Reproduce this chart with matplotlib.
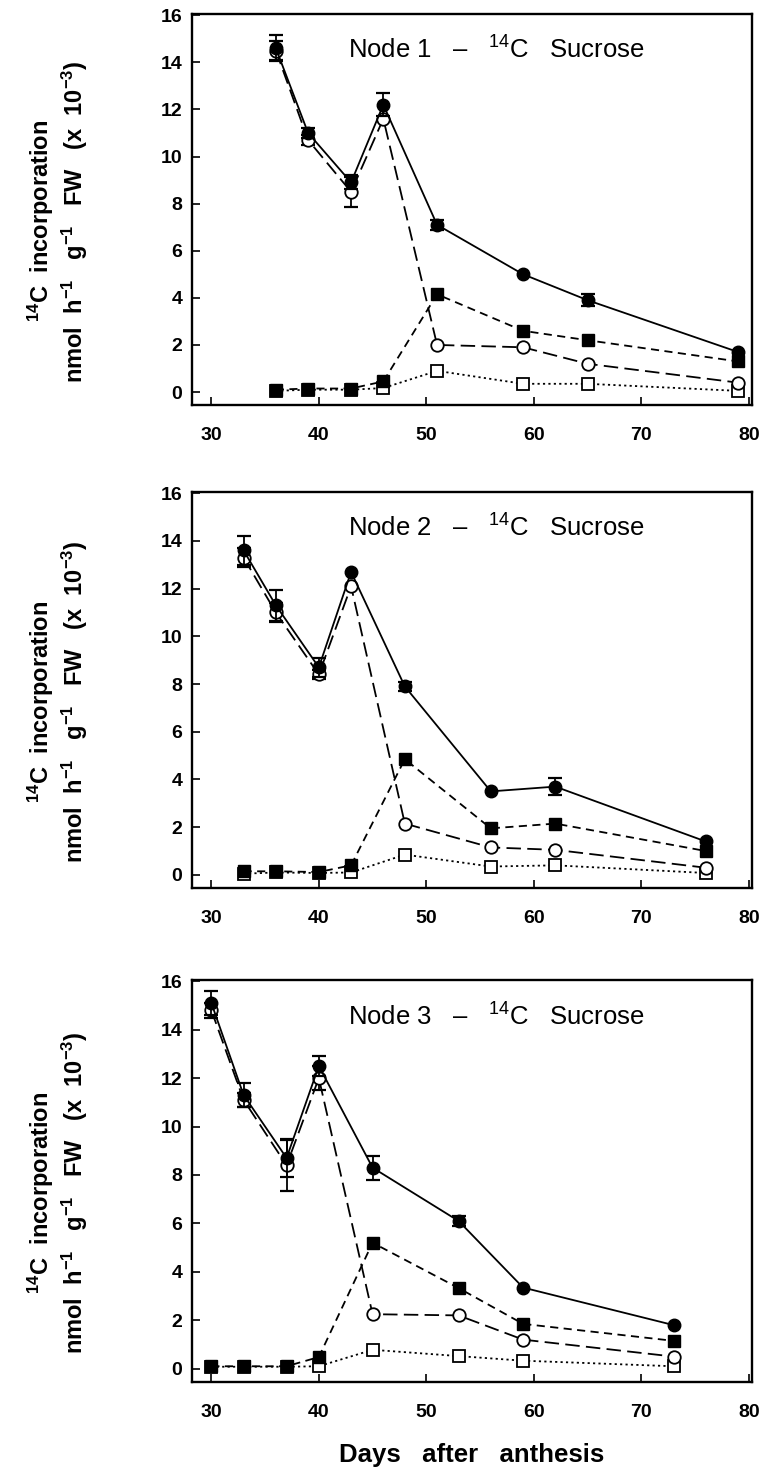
import numpy as np
import matplotlib
matplotlib.use("Agg")
import matplotlib.pyplot as plt

plt.rcParams['font.family'] = ['Liberation Sans', 'DejaVu Sans']
plt.rcParams['mathtext.fontset'] = 'custom'
plt.rcParams['mathtext.rm'] = 'Liberation Sans'
plt.rcParams['mathtext.bf'] = 'Liberation Sans:bold'
plt.rcParams['mathtext.default'] = 'regular'

# ---------------- data ----------------
node_titles = ["Node 1", "Node 2", "Node 3"]

days_n1 = [36, 39, 43, 46, 51, 59, 65, 79]
fc_n1 = [14.6, 11.0, 8.9, 12.2, 7.1, 5.0, 3.9, 1.7]      # filled circle, solid
fc_err_n1 = [0.55, 0.2, 0.3, 0.5, 0.2, 0.0, 0.25, 0.0]
oc_n1 = [14.5, 10.7, 8.5, 11.6, 2.0, 1.9, 1.2, 0.4]      # open circle, long dash
oc_err_n1 = [0.4, 0.2, 0.65, 0.0, 0.0, 0.0, 0.0, 0.0]
fs_n1 = [0.1, 0.15, 0.15, 0.45, 4.15, 2.6, 2.2, 1.3]     # filled square, short dash
os_n1 = [0.05, 0.1, 0.1, 0.17, 0.9, 0.35, 0.35, 0.05]    # open square, dotted

days_n2 = [33, 36, 40, 43, 48, 56, 62, 76]
fc_n2 = [13.6, 11.3, 8.7, 12.7, 7.9, 3.5, 3.7, 1.4]
fc_err_n2 = [0.6, 0.65, 0.4, 0.0, 0.2, 0.0, 0.35, 0.0]
oc_n2 = [13.3, 11.0, 8.4, 12.1, 2.15, 1.15, 1.05, 0.3]
oc_err_n2 = [0.4, 0.4, 0.2, 0.0, 0.0, 0.0, 0.0, 0.0]
fs_n2 = [0.15, 0.15, 0.12, 0.4, 4.85, 1.95, 2.15, 1.0]
os_n2 = [0.05, 0.1, 0.08, 0.1, 0.85, 0.35, 0.4, 0.08]

days_n3 = [30, 33, 37, 40, 45, 53, 59, 73]
fc_n3 = [15.1, 11.3, 8.7, 12.5, 8.3, 6.1, 3.35, 1.8]
fc_err_n3 = [0.5, 0.5, 0.8, 0.4, 0.5, 0.2, 0.0, 0.0]
oc_n3 = [14.8, 11.1, 8.4, 12.0, 2.25, 2.2, 1.2, 0.5]
oc_err_n3 = [0.3, 0.3, 1.05, 0.5, 0.0, 0.0, 0.0, 0.0]
fs_n3 = [0.1, 0.1, 0.1, 0.48, 5.2, 3.33, 1.85, 1.15]
os_n3 = [0.08, 0.08, 0.08, 0.1, 0.78, 0.52, 0.33, 0.1]

panels = [
    (days_n1, fc_n1, fc_err_n1, oc_n1, oc_err_n1, fs_n1, os_n1),
    (days_n2, fc_n2, fc_err_n2, oc_n2, oc_err_n2, fs_n2, os_n2),
    (days_n3, fc_n3, fc_err_n3, oc_n3, oc_err_n3, fs_n3, os_n3),
]

x_ticks = [30, 40, 50, 60, 70, 80]
y_ticks = [0, 2, 4, 6, 8, 10, 12, 14, 16]

# ---------------- figure ----------------
W, H = 767, 1472
fig = plt.figure(figsize=(W / 100, H / 100), dpi=100)

boxes = [(14, 405), (492, 888), (980, 1382)]  # top/bottom in pixels
left_px, right_px = 192, 752

lw = 1.3
ms = 9

for i, ((days, fc, fce, oc, oce, fs, os_), (top, bot)) in enumerate(zip(panels, boxes)):
    ax = fig.add_axes([left_px / W, 1 - bot / H, (right_px - left_px) / W, (bot - top) / H])
    days = np.array(days, float)
    fc, fce, oc, oce = map(lambda a: np.array(a, float), (fc, fce, oc, oce))

    ax.plot(days, os_, color='black', lw=lw, dashes=(1.2, 1.8), marker='s', ms=ms,
            mfc='white', mec='black', mew=1.3, zorder=2)
    ax.plot(days, fs, color='black', lw=lw, dashes=(4.5, 3), marker='s', ms=ms,
            mfc='black', mec='black', zorder=3)
    m = oce > 0
    ax.errorbar(days[m], oc[m], yerr=oce[m], fmt='none', ecolor='black', elinewidth=1.3,
                capsize=5, capthick=1.6, zorder=4)
    ax.plot(days, oc, color='black', lw=lw, dashes=(8, 3.5), marker='o', ms=ms,
            mfc='white', mec='black', mew=1.3, zorder=4)
    m = fce > 0
    ax.errorbar(days[m], fc[m], yerr=fce[m], fmt='none', ecolor='black', elinewidth=1.3,
                capsize=5, capthick=1.6, zorder=5)
    ax.plot(days, fc, color='black', lw=lw, ls='-', marker='o', ms=ms,
            mfc='black', mec='black', zorder=5)

    ax.set_xlim(28.2, 80.3)
    ax.set_ylim(-0.55, 16.05)
    ax.set_xticks(x_ticks)
    ax.set_yticks(y_ticks)
    ax.tick_params(axis='x', direction='in', length=6, width=1.2, pad=16,
                   labelsize=14, top=False)
    ax.tick_params(axis='y', direction='in', length=6, width=1.2, pad=7,
                   labelsize=14, right=False)
    for lab in ax.get_xticklabels() + ax.get_yticklabels():
        lab.set_fontweight('bold')
    for sp in ax.spines.values():
        sp.set_linewidth(1.7)

    ax.text(0.279, 0.908, node_titles[i] + r"   –   $\mathregular{^{14}}$C   Sucrose",
            transform=ax.transAxes, fontsize=18.5, ha='left', va='center')

    ax.set_ylabel(r"$\mathregular{^{14}}$C  incorporation" + "\n" +
                  r"nmol  h$\mathregular{^{-1}}$   g$\mathregular{^{-1}}$   FW   (x  10$\mathregular{^{-3}}$)",
                  fontsize=17, fontweight='bold', linespacing=1.18, va='center')
    ax.yaxis.set_label_coords(-0.24, 0.47)

fig.text(472 / W, 1 - 1455 / H, "Days   after   anthesis", fontsize=18.5, fontweight='bold',
         ha='center', va='center')

fig.savefig("out.png", dpi=100, facecolor='white')
